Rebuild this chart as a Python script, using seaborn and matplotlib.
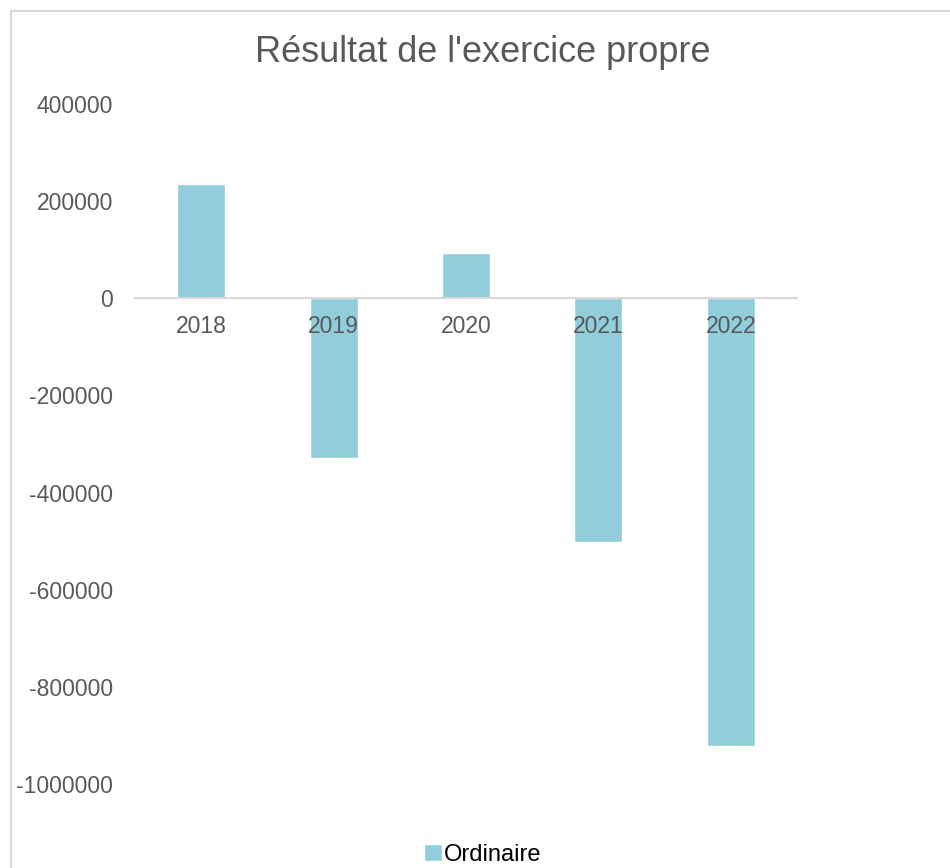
import pandas as pd
import matplotlib.pyplot as plt
import seaborn as sns
from matplotlib.patches import Rectangle

# Values
years = ['2018', '2019', '2020', '2021', '2022']
resultat = [235000, -328000, 93000, -501000, -921000]
series_name = 'Ordinaire'
yticks = [400000, 200000, 0, -200000, -400000, -600000, -800000, -1000000]

df = pd.DataFrame({'Annee': years, 'Resultat': resultat})

sns.set_style('white')
plt.rcParams['font.family'] = ['Liberation Sans', 'DejaVu Sans']

W, H = 950, 868
fig = plt.figure(figsize=(W / 100, H / 100), dpi=100)
ax = fig.add_axes([135 / W, 1 - 784 / H, (797 - 135) / W, (784 - 104) / H])

sns.barplot(data=df, x='Annee', y='Resultat', color='#92CDDC', width=0.363,
            saturation=1, label=series_name, ax=ax)
# bars behind the axis so the year labels stay readable
for p in ax.patches:
    p.set_zorder(0.5)

ax.set_ylim(-1000000, 400000)
ax.set_yticks(yticks)
ax.set_yticklabels([str(t) for t in yticks])
ax.set_xlim(-0.5, len(years) - 0.5)
ax.set_xlabel('')
ax.set_ylabel('')

for s in ['top', 'right', 'left']:
    ax.spines[s].set_visible(False)
ax.spines['bottom'].set_position(('data', 0))
ax.spines['bottom'].set_color('#D9D9D9')
ax.spines['bottom'].set_linewidth(1.5)
ax.tick_params(axis='both', length=0, labelsize=16.5, colors='#595959')
ax.tick_params(axis='y', pad=16)
ax.tick_params(axis='x', pad=12)
ax.grid(False)
if ax.get_legend() is not None:
    ax.get_legend().remove()

fig.text(483 / W, 1 - 52 / H, "Résultat de l'exercice propre", ha='center', va='center',
         fontsize=26, color='#595959')

handles, labels = ax.get_legend_handles_labels()
fig.legend(handles, labels, loc='center', bbox_to_anchor=(483 / W, 1 - 855 / H),
           frameon=False, fontsize=17, handlelength=0.75, handleheight=0.75,
           handletextpad=0.1, labelcolor='#000000')

# light border around the chart area
fig.patches.append(Rectangle((11 / W, -0.1), 1.2, 1 - 11 / H + 0.1, transform=fig.transFigure,
                             fill=False, edgecolor='#D9D9D9', linewidth=1.5))

fig.savefig('out.png', dpi=100, facecolor='white')
